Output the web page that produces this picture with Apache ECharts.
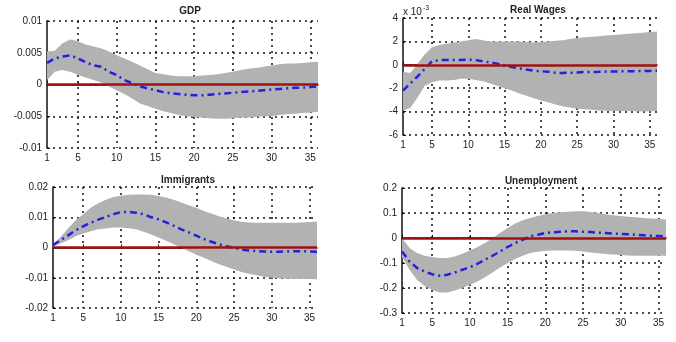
<!DOCTYPE html>
<html>
<head>
<meta charset="utf-8">
<script src="https://cdn.jsdelivr.net/npm/echarts@6/dist/echarts.min.js"></script>
<style>html,body{margin:0;padding:0;background:#fff;}#c{width:676px;height:342px;}</style>
</head>
<body>
<div id="c"></div>
<script>
var periods = [];
for (var p = 1; p <= 36; p++) periods.push(String(p));

var gdpMedian = [0.0034,0.0041,0.0044,0.0046,0.0041,0.0035,0.0030,0.0028,0.0020,0.0015,0.0007,0.0002,-0.0003,-0.0006,-0.0009,-0.0012,-0.0014,-0.0015,-0.0016,-0.0017,-0.0017,-0.0016,-0.0015,-0.0014,-0.0013,-0.0012,-0.0011,-0.0010,-0.0009,-0.0008,-0.0007,-0.0006,-0.0005,-0.0005,-0.0004,-0.0003];
var gdpUpper = [0.0052,0.0053,0.0065,0.0071,0.0068,0.0063,0.0060,0.0057,0.0052,0.0046,0.0041,0.0036,0.0030,0.0024,0.0018,0.0016,0.0014,0.0013,0.0013,0.0013,0.0014,0.0015,0.0016,0.0018,0.0020,0.0023,0.0025,0.0026,0.0028,0.0030,0.0032,0.0033,0.0033,0.0034,0.0035,0.0036];
var gdpLower = [0.0007,0.0020,0.0023,0.0020,0.0015,0.0011,0.0007,0.0003,-0.0003,-0.0009,-0.0015,-0.0022,-0.0030,-0.0034,-0.0038,-0.0042,-0.0045,-0.0048,-0.0050,-0.0051,-0.0052,-0.0053,-0.0054,-0.0054,-0.0053,-0.0052,-0.0052,-0.0051,-0.0050,-0.0050,-0.0048,-0.0047,-0.0046,-0.0045,-0.0044,-0.0043];

var wageMedian = [-2.2,-1.6,-1.0,-0.35,0.3,0.4,0.4,0.4,0.4,0.45,0.4,0.3,0.2,0.1,-0.05,-0.2,-0.3,-0.4,-0.5,-0.55,-0.6,-0.68,-0.7,-0.68,-0.65,-0.62,-0.61,-0.6,-0.58,-0.57,-0.56,-0.55,-0.54,-0.53,-0.52,-0.5];
var wageUpper = [-0.6,-0.7,0.1,0.9,1.5,1.7,1.8,1.9,2.0,2.1,2.2,2.1,2.0,2.0,2.0,2.0,2.0,1.95,1.9,1.95,2.0,2.05,2.1,2.2,2.3,2.35,2.4,2.45,2.5,2.55,2.6,2.65,2.7,2.75,2.8,2.85];
var wageLower = [-3.9,-3.7,-2.8,-1.8,-1.5,-1.35,-1.35,-1.3,-1.2,-1.2,-1.3,-1.4,-1.6,-1.8,-2.0,-2.2,-2.45,-2.65,-2.85,-3.05,-3.2,-3.4,-3.55,-3.65,-3.75,-3.8,-3.85,-3.9,-3.92,-3.95,-3.95,-3.95,-3.97,-4.0,-3.97,-3.95];

var immMedian = [0.0008,0.0024,0.0040,0.0057,0.0070,0.0082,0.0092,0.0101,0.0110,0.0117,0.0118,0.0115,0.0110,0.0100,0.0093,0.0083,0.0072,0.0060,0.0050,0.0039,0.0028,0.0019,0.0011,0.0004,-0.0001,-0.0007,-0.0010,-0.0012,-0.0013,-0.0014,-0.0014,-0.0013,-0.0012,-0.0012,-0.0013,-0.0014];
var immUpper = [0.0010,0.0035,0.0063,0.0090,0.0110,0.0131,0.0146,0.0158,0.0167,0.0171,0.0174,0.0175,0.0175,0.0174,0.0170,0.0165,0.0158,0.0149,0.0140,0.0131,0.0121,0.0112,0.0103,0.0096,0.0090,0.0085,0.0083,0.0082,0.0082,0.0082,0.0082,0.0082,0.0082,0.0083,0.0084,0.0085];
var immLower = [0.0004,0.0013,0.0024,0.0037,0.0046,0.0054,0.0060,0.0063,0.0066,0.0066,0.0064,0.0060,0.0052,0.0043,0.0033,0.0022,0.0011,-0.0001,-0.0012,-0.0023,-0.0034,-0.0045,-0.0055,-0.0064,-0.0073,-0.0081,-0.0087,-0.0092,-0.0097,-0.0100,-0.0102,-0.0103,-0.0103,-0.0103,-0.0104,-0.0105];

var unMedian = [-0.054,-0.094,-0.120,-0.134,-0.145,-0.151,-0.147,-0.138,-0.127,-0.117,-0.103,-0.087,-0.071,-0.054,-0.036,-0.020,-0.007,0.007,0.013,0.020,0.023,0.025,0.027,0.027,0.025,0.024,0.021,0.020,0.018,0.016,0.015,0.013,0.011,0.009,0.008,0.007];
var unUpper = [0.000,-0.040,-0.060,-0.071,-0.076,-0.080,-0.080,-0.074,-0.063,-0.050,-0.036,-0.020,0.000,0.020,0.040,0.058,0.071,0.080,0.088,0.095,0.100,0.103,0.105,0.107,0.107,0.104,0.100,0.095,0.091,0.088,0.085,0.083,0.080,0.078,0.076,0.074];
var unLower = [-0.076,-0.127,-0.168,-0.192,-0.208,-0.218,-0.218,-0.210,-0.200,-0.187,-0.174,-0.157,-0.138,-0.118,-0.100,-0.084,-0.071,-0.060,-0.055,-0.051,-0.050,-0.050,-0.050,-0.051,-0.054,-0.058,-0.061,-0.064,-0.066,-0.068,-0.070,-0.071,-0.071,-0.071,-0.071,-0.071];

var panelTitles = ['GDP', 'Real Wages', 'Immigrants', 'Unemployment'];

var panels = [
  {median: gdpMedian, upper: gdpUpper, lower: gdpLower, min: -0.01, max: 0.01, interval: 0.005},
  {median: wageMedian, upper: wageUpper, lower: wageLower, min: -6, max: 4, interval: 2},
  {median: immMedian, upper: immUpper, lower: immLower, min: -0.02, max: 0.02, interval: 0.01},
  {median: unMedian, upper: unUpper, lower: unLower, min: -0.3, max: 0.2, interval: 0.1}
];

var grids = [
  {left: 47, top: 21, width: 271, height: 127},
  {left: 403, top: 18, width: 254, height: 117},
  {left: 53, top: 187, width: 264, height: 121},
  {left: 402, top: 188, width: 264, height: 125}
];
var titlePos = [[185, 1], [533, 0], [183, 170], [536, 171]];

var font = 'Liberation Sans, Arial, sans-serif';
function showTick(idx) { var v = idx + 1; return v === 1 || v % 5 === 0; }
function showGrid(idx) { var v = idx + 1; return v % 5 === 0; }

var option = {
  animation: false,
  backgroundColor: '#fff',
  title: [], grid: [], xAxis: [], yAxis: [], series: [],
  graphic: [{
    type: 'text', left: 403, top: 5,
    style: {
      text: '{a|x 10}{b|-3}',
      rich: {
        a: {fontSize: 10, fontFamily: font, fill: '#222'},
        b: {fontSize: 7, fontFamily: font, fill: '#222', verticalAlign: 'top', padding: [0,0,8,1]}
      }
    }
  }]
};

panels.forEach(function (pn, i) {
  option.title.push({
    text: panelTitles[i], left: titlePos[i][0], top: titlePos[i][1], textAlign: 'center',
    textStyle: {fontSize: 10, fontWeight: 'bold', fontFamily: font, color: '#222'}
  });
  option.grid.push(grids[i]);
  option.xAxis.push({
    type: 'category', gridIndex: i, data: periods, boundaryGap: false,
    axisLine: {lineStyle: {color: '#111', width: 1.5}},
    axisTick: {show: true, inside: true, length: 3, interval: function (idx) { return showTick(idx); }, lineStyle: {color: '#111'}},
    axisLabel: {interval: function (idx) { return showTick(idx); }, fontSize: 10, fontFamily: font, color: '#222', margin: 5},
    splitLine: {show: true, interval: function (idx) { return showGrid(idx); }, lineStyle: {color: '#111', type: [2, 4], width: 1.5}}
  });
  option.yAxis.push({
    type: 'value', gridIndex: i, min: pn.min, max: pn.max, interval: pn.interval,
    axisLine: {show: true, lineStyle: {color: '#111', width: 1.5}},
    axisTick: {show: true, inside: true, length: 3, lineStyle: {color: '#111'}},
    axisLabel: {fontSize: 10, fontFamily: font, color: '#222', margin: 5},
    splitLine: {show: true, lineStyle: {color: '#111', type: [2, 4], width: 1.5}}
  });
  var diff = pn.upper.map(function (u, k) { return u - pn.lower[k]; });
  option.series.push({
    type: 'line', xAxisIndex: i, yAxisIndex: i, data: pn.lower, stack: 'band' + i, stackStrategy: 'all',
    symbol: 'none', lineStyle: {opacity: 0}, silent: true, z: 1
  });
  option.series.push({
    type: 'line', xAxisIndex: i, yAxisIndex: i, data: diff, stack: 'band' + i, stackStrategy: 'all',
    symbol: 'none', lineStyle: {opacity: 0}, areaStyle: {color: '#b2b2b2', opacity: 1}, silent: true, z: 1
  });
  option.series.push({
    type: 'line', xAxisIndex: i, yAxisIndex: i, data: pn.median, symbol: 'none', z: 3,
    lineStyle: {color: '#2222dd', width: 2.5, type: [7, 4, 2, 4]},
    markLine: {
      silent: true, symbol: 'none', label: {show: false},
      lineStyle: {color: '#a01212', width: 2.5, type: 'solid'},
      data: [{yAxis: 0}]
    }
  });
});

var chart = echarts.init(document.getElementById('c'), null, {renderer: 'canvas'});
chart.setOption(option);
</script>
</body>
</html>
